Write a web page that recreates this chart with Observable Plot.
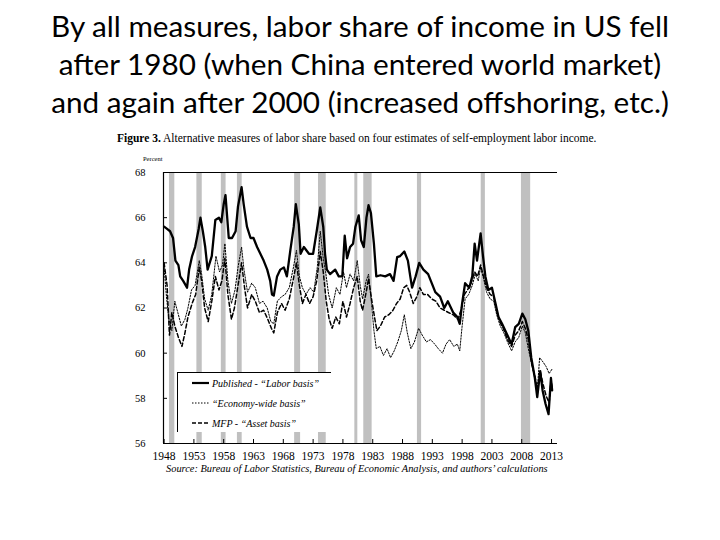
<!DOCTYPE html>
<html>
<head>
<meta charset="utf-8">
<script src="https://cdn.jsdelivr.net/npm/d3@7"></script>
<script src="https://cdn.jsdelivr.net/npm/@observablehq/plot@0.6"></script>
<style>
  html, body { margin: 0; padding: 0; background: #fff; }
  #page { position: relative; width: 720px; height: 540px; overflow: hidden; background: #fff; }
  #title { position: absolute; left: 0; top: 7px; width: 720px; text-align: center;
           font-family: Lato, "Open Sans", sans-serif; font-size: 27px; line-height: 38px; color: #000; }
  #title div { white-space: nowrap; }
  #figcap { position: absolute; left: 117px; top: 132px; white-space: nowrap;
            font-family: "Liberation Serif", serif; font-size: 10.5px; color: #000; }
  #percent { position: absolute; left: 143px; top: 155px; font-family: "Liberation Serif", serif;
             font-size: 6.5px; color: #000; }
  #chart { position: absolute; left: 0; top: 150px; }
  #source { position: absolute; left: 166px; top: 463px; white-space: nowrap; font-style: italic;
            font-family: "Liberation Serif", serif; font-size: 10.5px; color: #000; }
  #legend { position: absolute; left: 177px; top: 372px; width: 154px; height: 60px; background: #fff;
            border-top: 1px solid #000; border-left: 1px solid #000; box-sizing: border-box; }
  .row { position: absolute; left: 14px; height: 12px; display: flex; align-items: center;
         font-family: "Liberation Serif", serif; font-style: italic; font-size: 10px; white-space: nowrap; }
  .row svg { margin-right: 2px; }
</style>
</head>
<body>
<div id="page">
  <div id="title">
    <div class="tl">By all measures, labor share of income in US fell</div>
    <div class="tl">after 1980 (when China entered world market)</div>
    <div class="tl">and again after 2000 (increased offshoring, etc.)</div>
  </div>
  <div id="figcap"><b>Figure 3.</b> Alternative measures of labor share based on four estimates of self-employment labor income.</div>
  <div id="percent">Percent</div>
  <div id="chart"></div>
  <div id="source">Source: Bureau of Labor Statistics, Bureau of Economic Analysis, and authors’ calculations</div>
  <div id="legend"></div>
</div>
<script>
// ---------- data ----------
const seriesNames = ["Published - “Labor basis”", "“Economy-wide basis”", "MFP - “Asset basis”"];

const pubYear = [1948.0,1948.5,1949.0,1949.5,1949.9,1950.4,1950.7,1951.2,1951.85,1952.2,1952.7,1953.2,1953.8,1954.1,1954.5,1954.9,1955.3,1956.0,1956.6,1957.2,1957.6,1958.0,1958.3,1958.85,1959.4,1960.0,1960.4,1961.0,1961.35,1961.9,1962.5,1963.0,1963.6,1964.15,1964.7,1965.3,1965.8,1966.1,1966.4,1966.95,1967.5,1968.1,1968.6,1969.2,1969.75,1970.1,1970.6,1970.9,1971.45,1972.3,1973.0,1973.6,1974.2,1974.7,1975.0,1975.3,1975.85,1976.7,1977.3,1977.9,1978.3,1978.7,1979.2,1979.7,1980.1,1980.65,1981.05,1981.5,1981.95,1982.3,1982.7,1983.2,1983.6,1984.3,1985.1,1985.9,1986.5,1987.1,1987.6,1988.3,1988.9,1989.3,1989.6,1990.2,1990.8,1991.5,1992.3,1992.9,1993.5,1994.3,1995.0,1995.6,1996.5,1997.2,1997.6,1998.0,1998.5,1999.2,1999.7,2000.1,2000.5,2001.1,2001.5,2001.9,2002.4,2003.0,2003.6,2004.1,2004.7,2005.5,2006.3,2006.9,2007.5,2008.1,2008.6,2009.1,2009.6,2010.2,2010.6,2011.1,2011.5,2012.0,2012.5,2012.9,2013.1];
const pubValue = [65.6,65.5,65.4,65.1,64.1,63.9,63.4,63.2,62.9,63.7,64.3,64.7,65.5,66.0,65.4,64.7,63.7,64.3,65.9,66.0,65.8,66.6,67.0,65.1,65.1,65.4,66.5,67.35,66.6,65.6,65.1,65.1,64.7,64.4,64.1,63.7,63.2,62.6,62.55,63.4,63.7,63.8,63.4,64.6,65.6,66.6,65.7,64.4,64.7,64.4,64.4,65.4,66.45,65.6,64.4,63.7,63.5,63.7,63.4,63.4,65.2,64.2,64.7,64.85,65.6,66.1,65.0,64.7,66.0,66.55,66.2,64.85,63.4,63.45,63.4,63.5,63.2,64.25,64.3,64.5,64.1,63.4,62.9,63.4,64.0,63.7,63.5,63.1,62.7,62.5,62.0,62.3,61.8,61.6,61.3,62.2,63.1,62.9,63.4,64.85,64.1,65.3,64.3,63.4,62.8,62.9,62.2,61.6,61.3,60.85,60.4,61.15,61.3,61.75,61.5,61.0,59.8,58.9,58.05,59.2,58.35,57.75,57.3,58.9,58.35];

const econYear = [1948.0,1948.4,1948.8,1949.3,1949.8,1950.3,1950.9,1951.5,1952.0,1952.6,1953.2,1953.9,1954.3,1954.8,1955.4,1956.0,1956.7,1957.3,1957.8,1958.2,1958.7,1959.3,1959.9,1960.4,1961.0,1961.4,1962.0,1962.7,1963.3,1964.0,1964.6,1965.3,1965.9,1966.4,1967.0,1967.7,1968.3,1969.0,1969.7,1970.2,1970.7,1971.2,1971.8,1972.5,1973.1,1973.7,1974.2,1974.7,1975.1,1975.6,1976.2,1976.9,1977.5,1978.1,1978.6,1979.2,1979.8,1980.4,1980.9,1981.3,1981.9,1982.3,1982.8,1983.2,1983.6,1984.2,1984.8,1985.4,1986.0,1986.6,1987.2,1987.8,1988.3,1988.8,1989.4,1990.0,1990.7,1991.3,1992.0,1992.7,1993.4,1994.0,1994.7,1995.3,1995.9,1996.6,1997.2,1997.6,1998.0,1998.5,1999.1,1999.7,2000.2,2000.7,2001.1,2001.6,2002.1,2002.7,2003.3,2003.8,2004.4,2005.0,2005.6,2006.3,2006.9,2007.5,2008.1,2008.6,2009.1,2009.6,2010.1,2010.6,2011.0,2011.6,2012.1,2012.6,2013.1];
const econValue = [63.8,62.5,61.5,61.0,62.3,61.8,61.2,61.5,62.0,62.8,63.0,64.1,63.5,62.4,61.9,62.6,64.3,63.6,63.9,64.85,63.2,62.2,62.8,63.8,64.7,63.7,62.7,63.1,62.9,62.2,62.3,62.0,61.4,61.3,62.3,62.5,62.6,62.9,63.8,64.55,63.4,62.9,62.6,62.9,62.7,63.8,65.4,64.2,63.6,62.6,62.0,62.9,62.6,63.6,62.9,63.5,63.2,64.1,63.0,62.4,63.2,63.5,62.2,61.0,60.2,60.3,59.9,60.2,59.8,60.1,60.5,61.0,61.7,60.9,60.2,60.5,61.1,60.8,60.5,60.6,60.4,60.2,60.0,60.4,60.6,60.3,60.4,60.1,61.2,62.4,62.6,63.0,63.5,63.2,63.8,63.3,62.7,62.4,62.3,61.7,61.2,60.9,60.5,60.1,60.5,60.7,61.2,60.9,60.2,59.6,59.0,58.3,59.8,59.6,59.4,59.1,59.3];

const mfpYear = [1948.0,1948.5,1948.9,1949.3,1949.8,1950.4,1951.0,1951.5,1952.0,1952.7,1953.3,1953.9,1954.3,1954.8,1955.4,1956.0,1956.6,1957.2,1957.7,1958.2,1958.7,1959.3,1959.8,1960.4,1961.0,1961.5,1962.0,1962.7,1963.3,1964.0,1964.7,1965.4,1966.0,1966.4,1967.0,1967.7,1968.3,1969.0,1969.7,1970.2,1970.7,1971.2,1971.8,1972.4,1973.0,1973.6,1974.2,1974.7,1975.2,1975.7,1976.2,1976.8,1977.4,1978.0,1978.6,1979.2,1979.8,1980.4,1980.9,1981.3,1981.9,1982.3,1982.8,1983.3,1983.7,1984.3,1985.0,1985.7,1986.4,1987.0,1987.6,1988.2,1988.7,1989.2,1989.8,1990.4,1990.9,1991.5,1992.2,1992.9,1993.6,1994.3,1995.0,1995.7,1996.5,1997.3,1997.8,1998.4,1998.9,1999.5,2000.1,2000.6,2001.1,2001.6,2002.1,2002.7,2003.3,2003.8,2004.3,2004.9,2005.6,2006.3,2006.9,2007.5,2008.1,2008.6,2009.1,2009.6,2010.2,2010.6,2011.1,2011.6,2012.1,2012.6,2012.9,2013.1];
const mfpValue = [64.0,63.0,60.8,61.8,61.2,60.7,60.3,60.9,61.6,62.2,62.6,63.8,63.2,62.0,61.4,62.3,63.4,62.8,63.2,64.2,62.6,61.5,62.0,63.0,64.0,62.9,62.0,62.6,62.3,61.8,61.9,61.5,61.1,60.9,61.8,62.2,61.9,62.4,63.3,64.0,63.0,62.2,62.6,62.2,62.5,63.2,64.5,63.6,62.3,61.5,61.1,61.6,61.3,62.3,61.6,62.2,62.9,63.4,62.3,61.9,62.7,63.3,62.4,61.6,61.0,61.2,61.6,61.7,61.9,62.2,62.4,62.9,63.0,62.7,62.2,62.5,62.9,62.6,62.6,62.4,62.3,62.0,61.9,61.8,61.7,61.5,61.9,62.6,62.8,63.1,63.6,63.4,63.9,63.4,62.9,62.6,62.5,61.9,61.4,61.1,60.6,60.3,60.8,61.0,61.4,61.1,60.6,59.6,59.0,58.4,59.2,58.6,58.1,57.8,58.8,58.5];

const recessionStart = [1948.9,1953.5,1957.6,1960.3,1969.9,1973.9,1980.0,1981.5,1990.5,2001.2,2007.95];
const recessionEnd   = [1949.8,1954.4,1958.4,1961.1,1970.9,1975.2,1980.5,1982.9,1991.2,2001.9,2009.5];

const xTicks = [1948,1953,1958,1963,1968,1973,1978,1983,1988,1993,1998,2003,2008,2013];
const yTicks = [56,58,60,62,64,66,68];
const xDomain = [1947.9, 2014.0];
const yDomain = [56, 68];

// ---------- build tables ----------
const toRows = (years, values) => years.map((y, i) => ({year: y, value: values[i]}));
const pub = toRows(pubYear, pubValue);
const econ = toRows(econYear, econValue);
const mfp = toRows(mfpYear, mfpValue);
const recessions = recessionStart.map((s, i) => ({start: s, end: recessionEnd[i]}));

const W = 720, H = 330, mL = 163, mR = 163, mT = 22, mB = 37;
const innerW = W - mL - mR, innerH = H - mT - mB;

const chart = Plot.plot({
  width: W, height: H,
  marginLeft: mL, marginRight: mR, marginTop: mT, marginBottom: mB,
  x: {domain: xDomain},
  y: {domain: yDomain},
  style: {fontFamily: "'Liberation Serif', serif", fontSize: "11.5px", background: "transparent", color: "#000"},
  marks: [
    Plot.rect(recessions, {x1: "start", x2: "end", fill: "#c0c0c0"}),
    Plot.line(econ, {x: "year", y: "value", stroke: "#000", strokeWidth: 1, strokeDasharray: "1.5,1.5"}),
    Plot.line(mfp, {x: "year", y: "value", stroke: "#000", strokeWidth: 1.5, strokeDasharray: "4,2.5"}),
    Plot.line(pub, {x: "year", y: "value", stroke: "#000", strokeWidth: 2.3}),
    Plot.ruleY([yDomain[1]], {stroke: "#000", strokeWidth: 1.2}),
    Plot.ruleY([yDomain[0]], {stroke: "#000", strokeWidth: 1}),
    Plot.ruleX([xDomain[0]], {stroke: "#000", strokeWidth: 1.2}),
    Plot.tickX(xTicks, {x: d => d, insetTop: innerH - 4, stroke: "#000"}),
    Plot.tickY(yTicks, {y: d => d, insetRight: innerW - 4, stroke: "#000"}),
    Plot.axisX(xTicks, {tickSize: 0, tickPadding: 8, label: null, tickFormat: d => String(d), fontSize: 11.5}),
    Plot.axisY(yTicks, {tickSize: 0, tickPadding: 18, label: null, fontSize: 10.5})
  ]
});
document.getElementById("chart").appendChild(chart);

// ---------- legend ----------
const legend = document.getElementById("legend");
const legendStyles = [
  {w: 2.2, dash: null},
  {w: 1, dash: "1.5,1.5"},
  {w: 1.6, dash: "4,2"}
];
seriesNames.forEach((name, i) => {
  const row = document.createElement("div");
  row.className = "row";
  row.style.top = (4 + i * 20) + "px";
  const st = legendStyles[i];
  row.innerHTML = `<svg width="18" height="6"><line x1="0" x2="17" y1="3" y2="3" stroke="#000" stroke-width="${st.w}" ${st.dash ? `stroke-dasharray="${st.dash}"` : ""}/></svg><span>${name}</span>`;
  legend.appendChild(row);
});

// ---------- fit text widths to the reference ----------
function fitWidth(el, target) {
  const fs = parseFloat(getComputedStyle(el).fontSize);
  const w = el.getBoundingClientRect().width;
  el.style.fontSize = (fs * target / w) + "px";
}
const tl = document.querySelectorAll(".tl");
const s0 = parseFloat(getComputedStyle(document.getElementById("title")).fontSize);
const span = document.createElement("span");
span.textContent = tl[0].textContent;
span.style.whiteSpace = "nowrap";
tl[0].textContent = "";
tl[0].appendChild(span);
const w0 = span.getBoundingClientRect().width;
document.getElementById("title").style.fontSize = (s0 * 618 / w0) + "px";
fitWidth(document.getElementById("figcap"), 480);
fitWidth(document.getElementById("source"), 382);
</script>
</body>
</html>
